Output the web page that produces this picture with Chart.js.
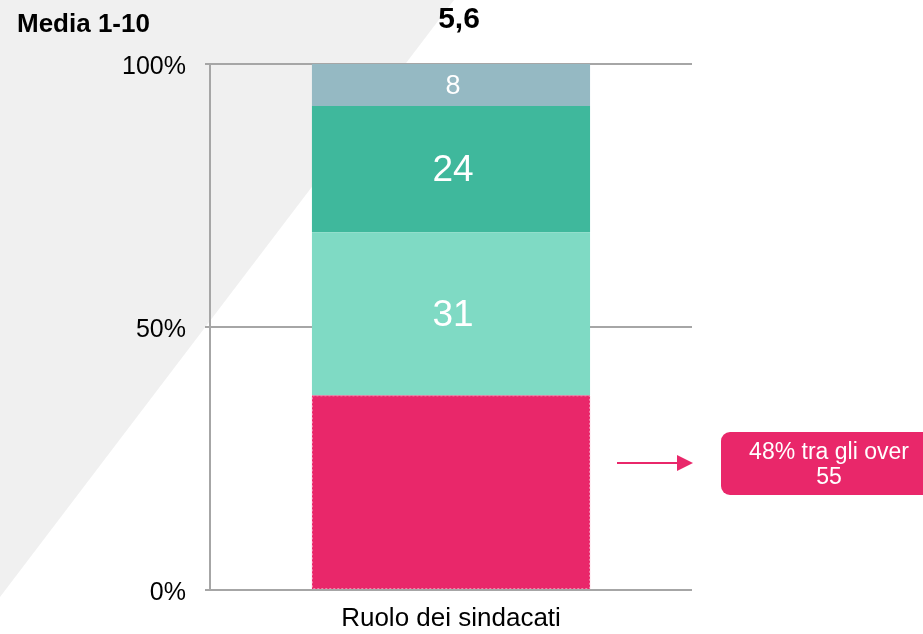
<!DOCTYPE html>
<html>
<head>
<meta charset="utf-8">
<script src="https://cdn.jsdelivr.net/npm/chart.js@4/dist/chart.umd.min.js"></script>
<style>
html, body { margin: 0; padding: 0; background: #fff; }
</style>
</head>
<body>
<canvas id="grafico" width="923" height="634"></canvas>
<script>
var categorie = ['Ruolo dei sindacati'];
var serie = ['Basso', 'Medio', 'Alto', 'Molto alto'];
var valori = [[37], [31], [24], [8]];
var mostraEtichetta = [false, true, true, true];
var colori = ['#e9276a', '#7fdac4', '#3fb89c', '#95b9c3'];
var tickY = [0, 50, 100];
var media = '5,6';
var FONT = '"Liberation Sans", Arial, sans-serif';

// sfondo grigio diagonale + titoli
var sfondo = {
    id: 'sfondo',
    beforeDraw: function(chart) {
        var ctx = chart.ctx;
        ctx.save();
        ctx.fillStyle = '#f0f0f0';
        ctx.beginPath();
        ctx.moveTo(0, 0);
        ctx.lineTo(454, 0);
        ctx.lineTo(0, 597);
        ctx.closePath();
        ctx.fill();
        ctx.restore();
    },
    afterDraw: function(chart) {
        var ctx = chart.ctx;
        ctx.save();
        ctx.fillStyle = '#000';
        ctx.textBaseline = 'middle';
        ctx.font = 'bold 26px ' + FONT;
        ctx.textAlign = 'left';
        ctx.fillText('Media 1-10', 17, 25);
        ctx.font = 'bold 30px ' + FONT;
        ctx.textAlign = 'center';
        var x = chart.scales.x.getPixelForValue(0);
        ctx.fillText(media, x + 8, 20);

        // freccia
        ctx.strokeStyle = '#e9276a';
        ctx.fillStyle = '#e9276a';
        ctx.lineWidth = 2;
        ctx.beginPath();
        ctx.moveTo(617, 463);
        ctx.lineTo(680, 463);
        ctx.stroke();
        ctx.beginPath();
        ctx.moveTo(693, 463);
        ctx.lineTo(677, 455);
        ctx.lineTo(677, 471);
        ctx.closePath();
        ctx.fill();

        // riquadro
        ctx.beginPath();
        ctx.roundRect(721, 432, 215, 63, 9);
        ctx.fill();
        ctx.fillStyle = '#fff';
        ctx.font = '23px ' + FONT;
        ctx.fillText('48% tra gli over', 829, 453);
        ctx.fillText('55', 829, 478);
        ctx.restore();
    }
};

var etichette = {
    id: 'etichette',
    afterDatasetsDraw: function(chart) {
        var ctx = chart.ctx;
        ctx.save();
        // bordo tratteggiato del segmento rosa
        var b = chart.getDatasetMeta(0).data[0];
        ctx.strokeStyle = '#f38ab0';
        ctx.lineWidth = 1;
        ctx.setLineDash([2, 2]);
        ctx.strokeRect(b.x - b.width / 2 + 0.5, b.y + 0.5, b.width - 1, b.base - b.y - 1);
        ctx.setLineDash([]);

        ctx.fillStyle = '#fff';
        ctx.textAlign = 'center';
        ctx.textBaseline = 'middle';
        chart.data.datasets.forEach(function(ds, i) {
            if (!mostraEtichetta[i]) return;
            chart.getDatasetMeta(i).data.forEach(function(bar, j) {
                var v = ds.data[j];
                ctx.font = (v < 10 ? 27 : 37) + 'px ' + FONT;
                ctx.fillText(String(v), bar.x + 2, (bar.y + bar.base) / 2 + 2);
            });
        });
        ctx.restore();
    }
};

var datasets = serie.map(function(nome, i) {
    return {
        label: nome,
        data: valori[i],
        backgroundColor: colori[i],
        borderWidth: 0,
        barPercentage: 0.577,
        categoryPercentage: 1
    };
});

new Chart(document.getElementById('grafico'), {
    type: 'bar',
    data: { labels: categorie, datasets: datasets },
    plugins: [sfondo, etichette],
    options: {
        responsive: false,
        animation: false,
        devicePixelRatio: 1,
        layout: { padding: { top: 64, right: 231, left: 0, bottom: 0 } },
        plugins: { legend: { display: false }, tooltip: { enabled: false } },
        scales: {
            x: {
                stacked: true,
                grid: { display: false },
                border: { display: false },
                ticks: { color: '#000', font: { family: FONT, size: 26 }, padding: 5 },
                afterFit: function(s) { s.height = 44; }
            },
            y: {
                stacked: true,
                min: 0,
                max: 100,
                afterBuildTicks: function(s) { s.ticks = tickY.map(function(v) { return { value: v }; }); },
                ticks: {
                    color: '#000',
                    font: { family: FONT, size: 25 },
                    padding: 19,
                    labelOffset: 3,
                    callback: function(v) { return v + '%'; }
                },
                grid: { color: '#a6a6a6', lineWidth: 2, tickLength: 5, drawOnChartArea: true },
                border: { color: '#a6a6a6', width: 2 },
                afterFit: function(s) { s.width = 210; }
            }
        }
    }
});
</script>
</body>
</html>
